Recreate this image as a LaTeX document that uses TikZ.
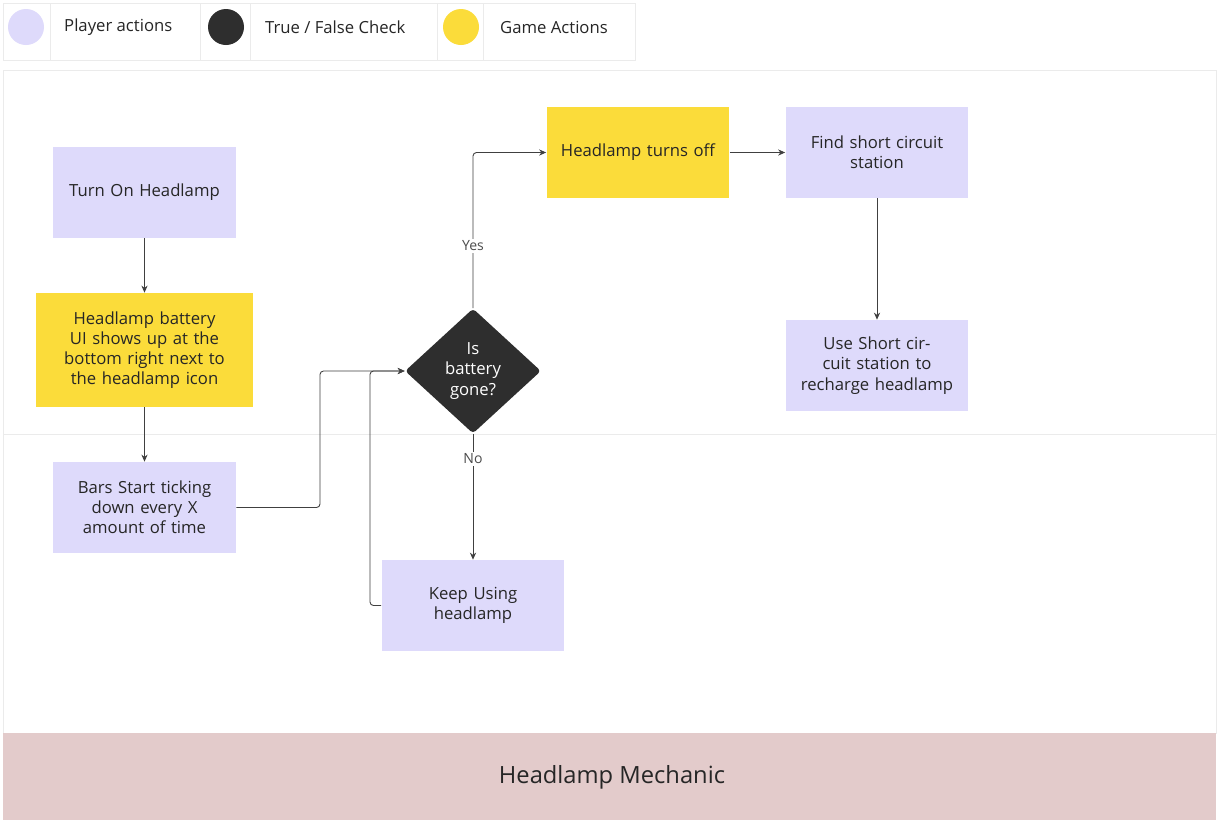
\documentclass[tikz,border=0pt]{standalone}
\usepackage{fontspec}
\setmainfont{Open Sans}
\usetikzlibrary{arrows.meta,shapes.geometric,positioning}
\definecolor{lav}{HTML}{DEDAFB}
\definecolor{gold}{HTML}{FBDC3A}
\definecolor{dark}{HTML}{2E2E2E}
\definecolor{band}{HTML}{E3CBCB}
\definecolor{faint}{HTML}{EBEBEB}
\begin{document}
\begin{tikzpicture}[x=0.02cm,y=-0.02cm,
    >={Stealth[length=4pt,width=3.5pt]},
    every node/.style={font=\fontsize{9.5}{11.5}\selectfont,text=black!85},
    player/.style={fill=lav,minimum width=3.66cm,minimum height=1.82cm,align=center,text width=3.3cm},
    game/.style={fill=gold,minimum width=3.66cm,minimum height=1.82cm,align=center,text width=3.3cm},
    check/.style={diamond,fill=dark,text=white,minimum width=2.72cm,minimum height=2.5cm,
      align=center,inner sep=0pt,rounded corners=2pt},
    flow/.style={->,draw=black!75,line width=0.5pt,rounded corners=2pt},
    lbl/.style={font=\fontsize{8}{10}\selectfont,text=black!70,fill=white,inner sep=1pt}]

  \useasboundingbox (0,0) rectangle (1218,823);
  % legend
  \draw[faint,fill=white] (3,3) rectangle (635,60);
  \foreach \x in {50,200,250,437,483} \draw[faint] (\x,3) -- (\x,60);
  \fill[lav] (26,27) circle (18);
  \fill[dark] (226,27) circle (18);
  \fill[gold] (461,27) circle (18);
  \node[anchor=west] (leg1) at (58,27) {Player actions};
  \node[anchor=west] (leg2) at (259,27) {True / False Check};
  \node[anchor=west] (leg3) at (494,27) {Game Actions};

  % panel
  \draw[faint,fill=white] (3,70) rectangle (1216,733);
  \draw[faint] (3,434) -- (1216,434);
  \fill[band] (3,733) rectangle (1216,820);
  \node[font=\fontsize{13.5}{16}\selectfont] (title) at (612,777) {Headlamp Mechanic};

  % nodes
  \node[player] (on) at (144.5,192.5) {Turn On Headlamp};
  \node[game,minimum width=4.22cm,minimum height=2.28cm,text width=4.1cm] (ui) at (144.5,350)
    {Headlamp battery UI shows up at the bottom right next to the headlamp icon};
  \node[player] (bars) at (144.5,507.5) {Bars Start ticking down every X amount of time};
  \node[check] (gone) at (473,371) {Is\\battery\\gone?};
  \node[player] (keep) at (473,605.5) {Keep Using\\headlamp};
  \node[game] (off) at (638,152.5) {Headlamp turns off};
  \node[player] (find) at (877,152.5) {Find short circuit\\station};
  \node[player] (use) at (877,365.5) {Use Short circuit station to recharge headlamp};

  % connectors
  \draw[flow] (on) -- (ui);
  \draw[flow] (ui) -- (bars);
  \draw[flow] (bars.east) -| (320,371) -- (gone.west);
  \draw[flow] (keep.west) -| (370,371) -- (gone.west);
  \draw[flow] (gone.north) |- (off.west) node[lbl,pos=0.2] {Yes};
  \draw[flow] (gone.south) -- (keep.north) node[lbl,pos=0.2] {No};
  \draw[flow] (off) -- (find);
  \draw[flow] (find) -- (use);

\end{tikzpicture}
\end{document}
